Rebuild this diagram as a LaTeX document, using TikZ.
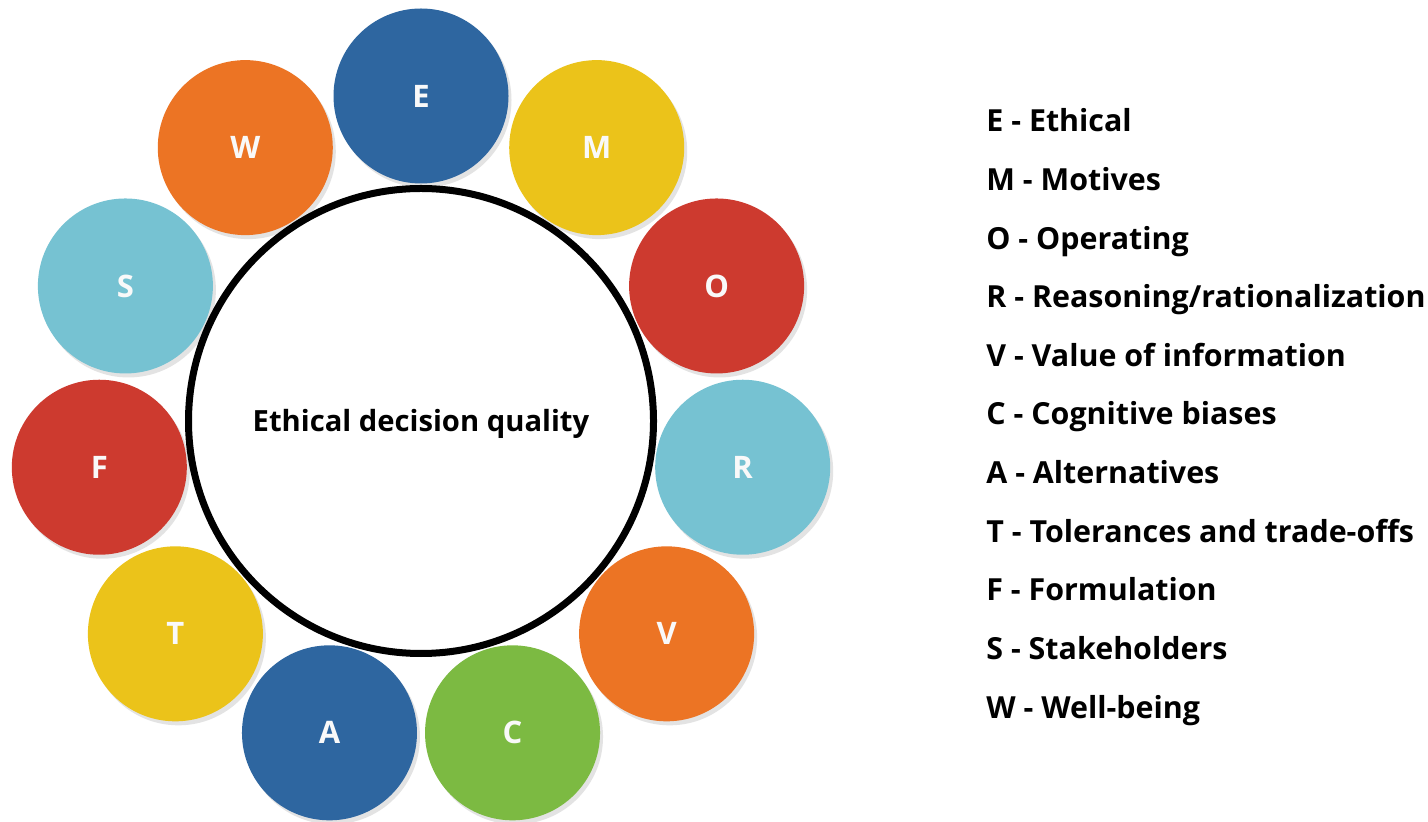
\documentclass[tikz,border=0pt]{standalone}
\usepackage{fontspec}
\setmainfont{Open Sans}
\usetikzlibrary{shadows,calc}
\definecolor{cblue}{HTML}{2E66A0}
\definecolor{cyellow}{HTML}{EBC31A}
\definecolor{cred}{HTML}{CD3A2F}
\definecolor{ccyan}{HTML}{76C2D2}
\definecolor{corange}{HTML}{EC7424}
\definecolor{cgreen}{HTML}{7CBA42}
\begin{document}
\begin{tikzpicture}[x=0.5pt,y=-0.5pt,
  petal/.style={circle, minimum size=175*0.5pt, inner sep=0pt,
    text=white!95!gray, font=\bfseries\fontsize{15.5}{17}\selectfont,
    drop shadow={opacity=0.22, shadow xshift=1.5pt, shadow yshift=-2pt}},
  hub/.style={circle, draw=black, line width=3.5pt, fill=white,
    minimum size=465*0.5pt, inner sep=0pt},
  key/.style={anchor=base west, inner sep=0pt,
    font=\bfseries\fontsize{15.2}{18}\selectfont}]
\useasboundingbox (0,0) rectangle (1428,822);
\fill[white] (0,0) rectangle (1428,822);

% ring of eleven factors around the hub
\coordinate (ctr) at (421,421);
\foreach \name/\ang/\col in {E/90/cblue, M/57.27/cyellow, O/24.55/cred,
    R/-8.18/ccyan, V/-40.91/corange, C/-73.64/cgreen, A/-106.36/cblue,
    T/-139.09/cyellow, F/-171.82/cred, S/155.45/ccyan, W/122.73/corange}
  \node[petal, fill=\col] (p\name) at ($(ctr)+(\ang:325*0.5pt)$) {\name};

\node[hub] (hub) at (ctr) {};
\node[font=\bfseries\fontsize{14.6}{18}\selectfont] (title) at (421,424) {Ethical decision quality};

% legend
\foreach \i/\txt in {0/{E - Ethical}, 1/{M - Motives}, 2/{O - Operating},
    3/{R - Reasoning/rationalization}, 4/{V - Value of information},
    5/{C - Cognitive biases}, 6/{A - Alternatives},
    7/{T - Tolerances and trade-offs}, 8/{F - Formulation},
    9/{S - Stakeholders}, 10/{W - Well-being}}
  \node[key] (k\i) at (986,{132+58.6*\i}) {\txt};
\end{tikzpicture}
\end{document}
